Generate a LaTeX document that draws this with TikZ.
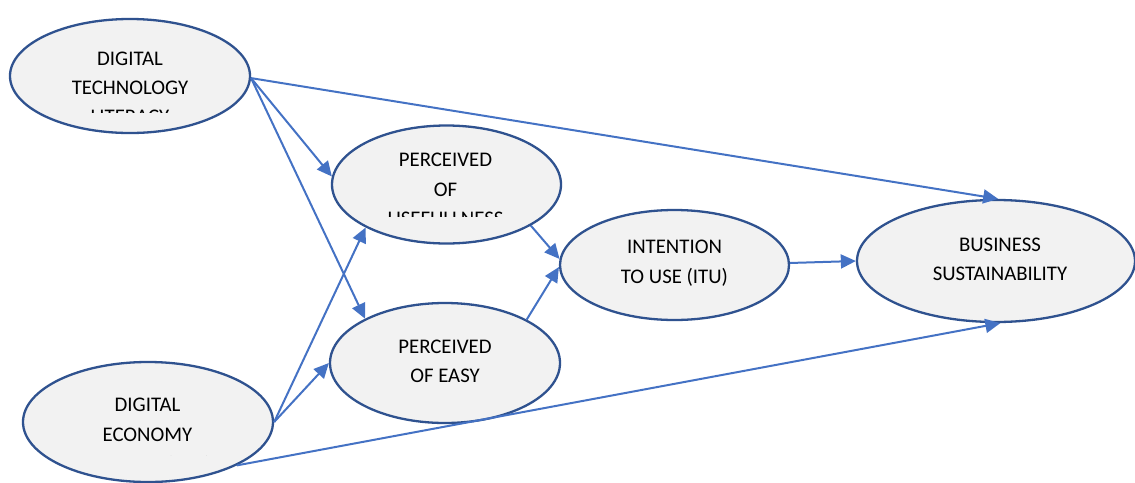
\documentclass[tikz,border=0pt]{standalone}
\usepackage{fontspec}
\setmainfont{Carlito}
\usetikzlibrary{arrows.meta,shapes.geometric}
\definecolor{rim}{HTML}{2F528F}
\definecolor{link}{HTML}{4472C4}
\definecolor{body}{HTML}{F2F2F2}
\tikzset{
  construct/.style={ellipse, draw=rim, fill=body, line width=2.3pt, inner sep=0pt},
  txt/.style={anchor=base, inner sep=0pt, text=black, font=\fontsize{20.8}{25}\selectfont},
  conn/.style={draw=link, line width=2pt, -{Triangle[length=15pt,width=14pt]}},
}
\begin{document}
\begin{tikzpicture}[x=1pt, y=-1pt]
\useasboundingbox (0,0) rectangle (1135,482);

% constructs
\node[construct, minimum width=240pt, minimum height=114pt] (dtl) at (130,76) {};
\node[construct, minimum width=229pt, minimum height=118pt] (pu)  at (446.5,184.5) {};
\node[construct, minimum width=230pt, minimum height=120pt] (pe)  at (445,363) {};
\node[construct, minimum width=229pt, minimum height=110pt] (itu) at (674.5,265) {};
\node[construct, minimum width=278pt, minimum height=122pt] (bs)  at (996,261) {};
\node[construct, minimum width=250pt, minimum height=120pt] (de)  at (148,422) {};

% labels (text boxes clip their last line)
\begin{scope}
  \clip (0,0) rectangle (300,112);
  \node[txt] (dtl-a) at (130,65)   {DIGITAL};
  \node[txt] (dtl-b) at (130,94.3) {TECHNOLOGY};
  \node[txt] (dtl-c) at (130,123.6) {LITERACY};
\end{scope}
\begin{scope}
  \clip (300,100) rectangle (600,216.5);
  \node[txt] (pu-a) at (445.5,166.9) {PERCEIVED};
  \node[txt] (pu-b) at (445.5,196.4) {OF};
  \node[txt] (pu-c) at (445.5,225.9) {USEFULLNESS};
\end{scope}
\node[txt] (pe-a) at (445,353.6) {PERCEIVED};
\node[txt] (pe-b) at (445,382.6) {OF EASY};
\node[txt] (itu-a) at (674.5,253) {INTENTION};
\node[txt] (itu-b) at (674.5,283) {TO USE (ITU)};
\node[txt] (bs-a) at (1000,251.6) {BUSINESS};
\node[txt] (bs-b) at (1000,280.3) {SUSTAINABILITY};
\begin{scope}
  \clip (0,380) rectangle (300,455.3);
  \node[txt] (de-a) at (147.5,411.6) {DIGITAL};
  \node[txt] (de-b) at (147.5,441.6) {ECONOMY};
  \node[txt] (de-c) at (147.5,471) {LITERACY (DEL)};
\end{scope}

% paths
\draw[conn] (dtl.-1) -- (bs.88);
\draw[conn] (dtl.-1) -- (pu.176.3);
\draw[conn] (dtl.-1) -- (pe.151.5);
\draw[conn] (de.0) -- (pu.208.1);
\draw[conn] (de.0) -- (pe.180);
\draw[conn] (de.-26) -- (bs.-86);
\draw[conn] (pu.-26.7) -- (itu.177.5);
\draw[conn] (pe.28) -- (itu.181.5);
\draw[conn] (itu.1.5) -- (bs.180.8);
\end{tikzpicture}
\end{document}
